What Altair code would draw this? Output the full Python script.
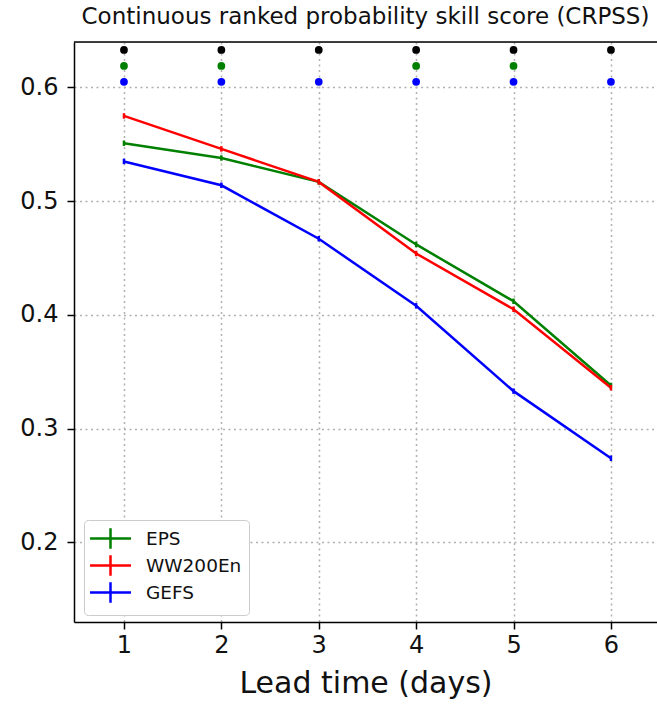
import altair as alt
import pandas as pd

days = [1, 2, 3, 4, 5, 6]
eps = [0.551, 0.538, 0.517, 0.462, 0.412, 0.338]
ww200en = [0.575, 0.546, 0.517, 0.454, 0.405, 0.336]
gefs = [0.535, 0.514, 0.467, 0.408, 0.333, 0.274]

series_names = ["EPS", "WW200En", "GEFS"]
series_colors = ["#008000", "#ff0000", "#0000ff"]

# significance markers at the top
sig_black_days = [1, 2, 3, 4, 5, 6]
sig_green_days = [1, 2, 4, 5]
sig_blue_days = [1, 2, 3, 4, 5, 6]
sig_levels = {"black": 0.633, "green": 0.619, "blue": 0.605}
sig_colors = {"black": "#000000", "green": "#008000", "blue": "#0000ff"}

rows = []
for name, vals in zip(series_names, [eps, ww200en, gefs]):
    for d, v in zip(days, vals):
        rows.append({"day": d, "crpss": v, "model": name})
df = pd.DataFrame(rows)

sig_rows = []
for key, dl in [("black", sig_black_days), ("green", sig_green_days), ("blue", sig_blue_days)]:
    for d in dl:
        sig_rows.append({"day": d, "level": sig_levels[key], "grp": key})
sig_df = pd.DataFrame(sig_rows)

W, H = 583, 580

xscale = alt.Scale(domain=[0.487, 6.473], nice=False, zero=False)
yscale = alt.Scale(domain=[0.130, 0.640], nice=False, zero=False)

xaxis = alt.Axis(values=days, format="d", title="Lead time (days)", labelFontSize=24,
                 titleFontSize=30, titleFontWeight="normal", tickSize=7, tickWidth=1.5,
                 tickColor="black", domainColor="black", domainWidth=1.5, labelPadding=4,
                 titlePadding=11, labelColor="#111", titleColor="#111",
                 grid=True, gridDash=[2, 3.5], gridColor="#b0b0b0", gridWidth=1.5)
yaxis = alt.Axis(values=[0.2, 0.3, 0.4, 0.5, 0.6], format=".1f", title=None, labelFontSize=24,
                 tickSize=7, tickWidth=1.5, tickColor="black", domainColor="black",
                 domainWidth=1.5, labelPadding=9, labelColor="#111",
                 grid=True, gridDash=[2, 3.5], gridColor="#b0b0b0", gridWidth=1.5)

base = alt.Chart(df)

lines = base.mark_line(strokeWidth=2.5).encode(
    x=alt.X("day:Q", scale=xscale, axis=xaxis),
    y=alt.Y("crpss:Q", scale=yscale, axis=yaxis),
    color=alt.Color("model:N", scale=alt.Scale(domain=series_names, range=series_colors),
                    sort=series_names,
                    legend=alt.Legend(title=None, orient="none", legendX=10, legendY=478,
                                      symbolType="M-2,0L2,0M0,-1L0,1", symbolSize=420,
                                      symbolStrokeWidth=2.5, symbolFillColor="transparent",
                                      symbolOffset=8,
                                      labelFontSize=18.5, labelOffset=24, rowPadding=-4,
                                      padding=7, strokeColor="#cccccc", fillColor="white",
                                      cornerRadius=4, labelColor="#111")),
    detail="model:N",
)

ticks = []
for name, col in zip(series_names, series_colors):
    ticks.append(
        base.transform_filter(alt.datum.model == name).mark_point(
            shape="M0,-1L0,1", size=30, strokeWidth=2.5, color=col, opacity=1, filled=False
        ).encode(x=alt.X("day:Q", scale=xscale), y=alt.Y("crpss:Q", scale=yscale))
    )

dots = alt.Chart(sig_df).mark_circle(size=60, opacity=1).encode(
    x=alt.X("day:Q", scale=xscale),
    y=alt.Y("level:Q", scale=yscale),
    color=alt.Color("grp:N", scale=alt.Scale(domain=list(sig_colors.keys()),
                                              range=list(sig_colors.values())), legend=None),
)

# top frame line of the axes box
topframe = alt.Chart(pd.DataFrame({"k": [0]})).mark_rule(
    color="black", strokeWidth=1.5
).encode(x=alt.value(0), x2=alt.value(W), y=alt.value(0))

chart = alt.layer(lines, *ticks, dots, topframe).resolve_scale(
    color="independent"
).properties(
    width=W, height=H,
    title=alt.Title("Continuous ranked probability skill score (CRPSS)", fontSize=23,
                    fontWeight="normal", anchor="middle", offset=12, color="#111"),
    autosize=alt.AutoSizeParams(type="none"),
    padding={"left": 74, "top": 42, "right": 0, "bottom": 82},
).configure_view(stroke=None).configure(font="DejaVu Sans")

chart.save("out.html", embed_options={"renderer": "svg", "actions": False})
